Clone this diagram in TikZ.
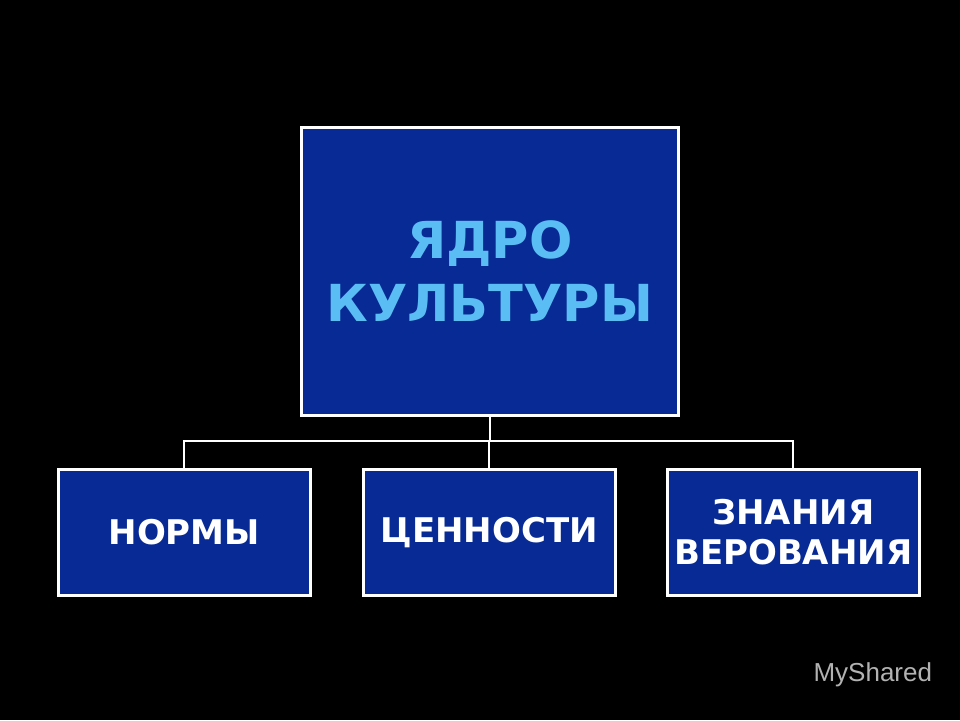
\documentclass[tikz,border=0pt]{standalone}
\usepackage{fontspec}
\setmainfont{DejaVu Sans}
\newfontfamily\wm{Liberation Sans}
\definecolor{boxblue}{RGB}{8,42,148}
\definecolor{lblue}{RGB}{90,190,245}
\begin{document}
\begin{tikzpicture}[x=1pt,y=-1pt,
  bx/.style={draw=white,line width=2.5pt,fill=boxblue,anchor=north west,inner sep=0pt,align=center,font=\bfseries},
  ln/.style={draw=white,line width=2pt}]
\fill[black] (0,0) rectangle (960,720);
\useasboundingbox (0,0) rectangle (960,720);
\node[bx,minimum width=377pt,minimum height=288pt,text=lblue,font=\bfseries\fontsize{51}{63}\selectfont] (top) at (300,126) {ЯДРО\\КУЛЬТУРЫ};
\node[bx,minimum width=252pt,minimum height=126pt,text=white,font=\bfseries\fontsize{34}{40}\selectfont] (a) at (57,468) {НОРМЫ};
\node[bx,minimum width=252pt,minimum height=126pt,text=white,font=\bfseries\fontsize{34}{40}\selectfont] (b) at (362,468) {ЦЕННОСТИ};
\node[bx,minimum width=252pt,minimum height=126pt,text=white,font=\bfseries\fontsize{34}{40}\selectfont] (c) at (666,468) {ЗНАНИЯ\\ВЕРОВАНИЯ};
\coordinate (m) at (top.south |- 0,441);
\draw[ln] (top.south) -- (m);
\draw[ln] (a.north) |- (m) -| (c.north);
\draw[ln] (m) -- (m -| b.north) -- (b.north);
\node[text=gray!60,font=\wm\fontsize{26}{30}\selectfont,anchor=west] (w) at (810,675) {MyShared};
\end{tikzpicture}
\end{document}
